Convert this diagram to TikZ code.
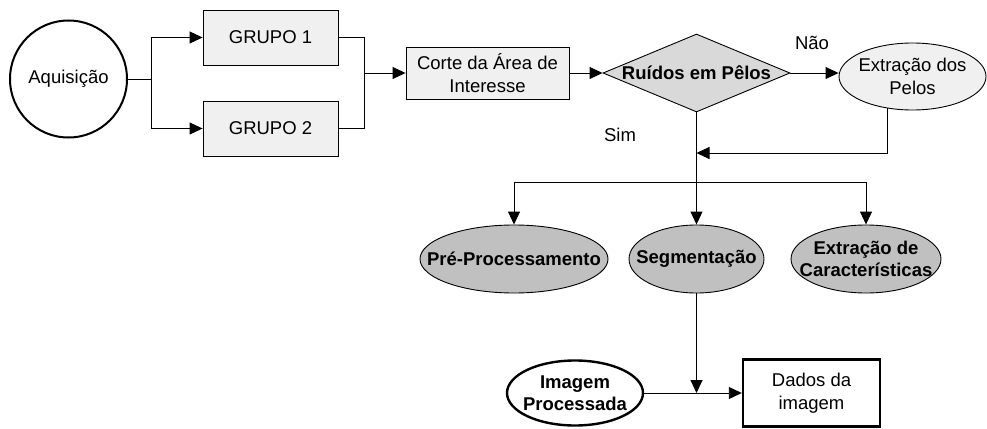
\documentclass[tikz,border=0pt]{standalone}
\usepackage{fontspec}
\setmainfont{Liberation Sans}
\usetikzlibrary{shapes.geometric,arrows.meta,calc}
\definecolor{lite}{HTML}{F0F0F0}
\definecolor{diam}{HTML}{D9D9D9}
\definecolor{mid}{HTML}{C0C0C0}
\begin{document}
\begin{tikzpicture}[x=1pt,y=-1pt,
  every node/.style={font=\fontsize{18.5}{22.5}\selectfont, align=center, inner sep=0pt},
  rect/.style={draw, line width=0.9pt, rectangle},
  oval/.style={draw, line width=0.9pt, ellipse},
  bold/.style={font=\fontsize{18.5}{22}\selectfont\bfseries},
  arr/.style={line width=0.9pt, -{Triangle[length=13pt,width=12pt]}},
  ln/.style={line width=0.9pt}]
\path[use as bounding box] (0,0) rectangle (987,428);

% nodes
\node[circle, draw, line width=2pt, minimum size=117pt] (aq) at (68.5,79) {Aquisição};
\node[rect, fill=lite, minimum width=135pt, minimum height=55pt] (g1) at (270.5,37.5) {GRUPO 1};
\node[rect, fill=lite, minimum width=135pt, minimum height=55pt] (g2) at (270.5,128.5) {GRUPO 2};
\node[rect, fill=lite, minimum width=163pt, minimum height=52pt] (corte) at (487.5,73) {Corte da Área de\\Interesse};
\node[diamond, draw, line width=0.9pt, fill=diam, minimum width=187pt, minimum height=78pt] (dia) at (696.5,73) {};
\node[bold] (diat) at (dia.center) {Ruídos em Pêlos};
\node[oval, fill=lite, minimum width=147pt, minimum height=67pt] (ext) at (912.5,76.5) {};
\node (extt) at (ext.center) {Extração dos\\Pelos};
\node[oval, fill=mid, minimum width=188pt, minimum height=68pt] (pre) at (514,259) {};
\node[bold] (pret) at (pre.center) {Pré-Processamento};
\node[oval, fill=mid, minimum width=135pt, minimum height=68pt] (seg) at (696.5,259) {};
\node[bold] (segt) at (seg.center) {Segmentação};
\node[oval, fill=mid, minimum width=150pt, minimum height=68pt] (car) at (866,259) {};
\node[bold] (cart) at (car.center) {Extração de\\Características};
\node[ellipse, draw, line width=2.4pt, fill=white, minimum width=136pt, minimum height=65pt] (img) at (575,393) {};
\node[bold] (imgt) at (img.center) {Imagem\\Processada};
\node[rectangle, draw, line width=2.4pt, minimum width=137pt, minimum height=67pt] (dados) at (811.5,393) {Dados da\\imagem};

\node (nao) at (812,43) {Não};
\node (sim) at (620,135) {Sim};

% junctions
\coordinate (j1) at (151,79);
\coordinate (j2) at (364,73);
\coordinate (jb) at (696.5,182);
\coordinate (r1) at (0,153);
\coordinate (r0) at ($(ext.south)+(-25,-2.5)$);

% connectors
\draw[ln] (aq.east) -- (j1);
\draw[arr] (j1) |- (g1.west);
\draw[arr] (j1) |- (g2.west);
\draw[ln] (g1.east) -| (j2);
\draw[ln] (g2.east) -| (j2);
\draw[arr] (j2) -- (corte.west);
\draw[arr] (corte.east) -- (dia.west);
\draw[arr] (dia.east) -- (dia.east -| ext.west);
\draw[arr] (r0) |- (dia.south |- r1);
\draw[arr] (dia.south) -- (seg.north);
\draw[arr] (jb) -| (pre.north);
\draw[arr] (jb) -| (car.north);
\draw[arr] (seg.south) -- (seg.south |- img.east);
\draw[arr] (img.east) -- (dados.west);
\end{tikzpicture}
\end{document}
